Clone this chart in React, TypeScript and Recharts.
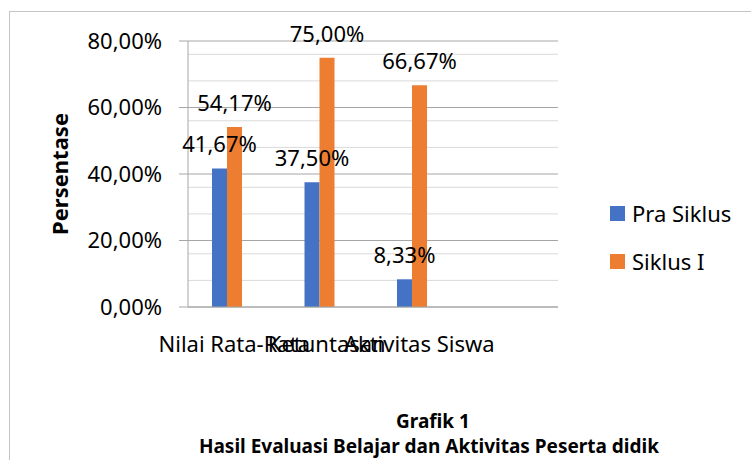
import { Bar, BarChart, CartesianGrid, LabelList, XAxis, YAxis } from 'recharts';

const categories = ['Nilai Rata-Rata', 'Ketuntasan', 'Aktivitas Siswa', ''];
const praSiklus = [41.67, 37.5, 8.33, null];
const siklusI = [54.17, 75.0, 66.67, null];
// empty third series in the source sheet, it still takes a bar slot
const siklusII = [null, null, null, null];
const yTicks = [0, 20, 40, 60, 80];
const minorTicks = [4, 8, 12, 16, 24, 28, 32, 36, 44, 48, 52, 56, 64, 68, 72, 76];

const data = categories.map((name, i) => ({
  name,
  pra: praSiklus[i],
  s1: siklusI[i],
  s2: siklusII[i],
}));

const BLUE = '#4472C4';
const ORANGE = '#ED7D31';
const FONT = '"Noto Sans", sans-serif';

const legendItems = [
  { name: 'Pra Siklus', color: BLUE },
  { name: 'Siklus I', color: ORANGE },
];

const fmtPct = (v: unknown) =>
  v == null || v === '' ? '' : `${Number(v).toFixed(2).replace('.', ',')}%`;

function YTitle({ viewBox }: any) {
  const cy = viewBox.y + viewBox.height / 2;
  return (
    <text
      x={59}
      y={cy}
      transform={`rotate(-90 59 ${cy})`}
      textAnchor="middle"
      dominantBaseline="central"
      fontFamily={FONT}
      fontSize={22}
      fontWeight="bold"
      fill="#000"
    >
      Persentase
    </text>
  );
}

export default function App() {
  return (
    <div
      style={{
        position: 'absolute',
        left: 0,
        top: 0,
        width: 751,
        height: 460,
        overflow: 'hidden',
        background: '#fff',
      }}
    >
      <div
        style={{
          position: 'absolute',
          left: 9,
          top: 11,
          width: 1000,
          height: 1000,
          border: '1px solid #c4c4c4',
        }}
      />
      <div style={{ position: 'absolute', left: 0, top: 0 }}>
        <BarChart
          width={751}
          height={460}
          data={data}
          margin={{ top: 41, right: 193, left: 0, bottom: 113 }}
          barGap={0}
        >
          <CartesianGrid vertical={false} horizontalValues={minorTicks} stroke="#d9d9d9" />
          <CartesianGrid vertical={false} horizontalValues={yTicks} stroke="#a6a6a6" />
          <XAxis
            dataKey="name"
            interval={0}
            tickLine={false}
            tickSize={0}
            tickMargin={29}
            height={40}
            axisLine={{ stroke: '#a6a6a6' }}
            tick={{ fill: '#000', fontSize: 22, fontFamily: FONT }}
          />
          <YAxis
            width={188}
            domain={[0, 80]}
            ticks={yTicks}
            tickFormatter={fmtPct}
            tickSize={9}
            tickMargin={17}
            axisLine={{ stroke: '#a6a6a6' }}
            tickLine={{ stroke: '#a6a6a6' }}
            tick={{ fill: '#000', fontSize: 22, fontFamily: FONT }}
            label={{ content: (p: any) => <YTitle {...p} /> }}
          />
          <Bar dataKey="pra" name="Pra Siklus" fill={BLUE} barSize={15} isAnimationActive={false}>
            <LabelList
              dataKey="pra"
              position="top"
              offset={16}
              formatter={fmtPct}
              style={{ fill: '#000', fontSize: 22, fontFamily: FONT }}
            />
          </Bar>
          <Bar dataKey="s1" name="Siklus I" fill={ORANGE} barSize={15} isAnimationActive={false}>
            <LabelList
              dataKey="s1"
              position="top"
              offset={16}
              formatter={fmtPct}
              style={{ fill: '#000', fontSize: 22, fontFamily: FONT }}
            />
          </Bar>
          <Bar dataKey="s2" name="Siklus II" fill="#A5A5A5" barSize={15} isAnimationActive={false} />
        </BarChart>
      </div>
      <div
        style={{
          position: 'absolute',
          left: 610,
          top: 198,
          fontFamily: FONT,
          fontSize: 22,
          color: '#000',
        }}
      >
        {legendItems.map((it) => (
          <div
            key={it.name}
            style={{ display: 'flex', alignItems: 'center', height: 30, marginBottom: 18 }}
          >
            <span
              style={{ width: 15, height: 15, background: it.color, marginRight: 7, display: 'inline-block' }}
            />
            {it.name}
          </div>
        ))}
      </div>
      <svg
        width={751}
        height={460}
        style={{ position: 'absolute', left: 0, top: 0, pointerEvents: 'none' }}
      >
        <text x={433} y={428} textAnchor="middle" fontFamily={FONT} fontSize={19} fontWeight="bold">
          Grafik 1
        </text>
        <text x={429} y={453} textAnchor="middle" fontFamily={FONT} fontSize={19} fontWeight="bold">
          Hasil Evaluasi Belajar dan Aktivitas Peserta didik
        </text>
      </svg>
    </div>
  );
}
